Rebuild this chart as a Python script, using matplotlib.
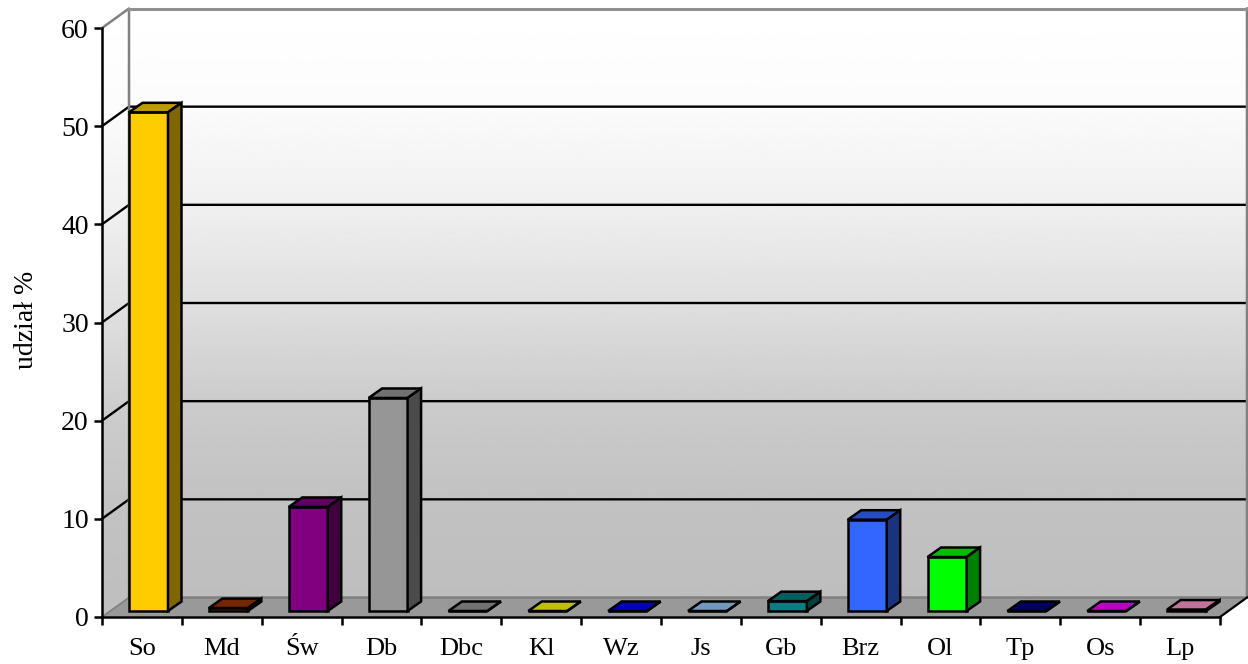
import matplotlib
matplotlib.use('Agg')
import matplotlib.pyplot as plt
import numpy as np
from matplotlib.patches import Polygon

plt.rcParams['font.family'] = ['Liberation Serif', 'DejaVu Serif']

# values
categories = ['So', 'Md', 'Św', 'Db', 'Dbc', 'Kl', 'Wz', 'Js', 'Gb', 'Brz', 'Ol', 'Tp', 'Os', 'Lp']
values = [50.8, 0.3, 10.6, 21.7, 0, 0, 0, 0, 1.0, 9.3, 5.5, 0, 0, 0.15]
face_colors = ['#ffcc00', '#993300', '#800080', '#969696', '#969696', '#ffff00', '#0000ff',
               '#99ccff', '#008080', '#3366ff', '#00ff00', '#000080', '#ff00ff', '#ff99cc']
y_ticks = [0, 10, 20, 30, 40, 50, 60]
# wall shade read at each gridline, top to bottom
wall_shades = [1.0, 0.985, 0.94, 0.875, 0.80, 0.76, 0.745]

W, H = 1248, 664
fig = plt.figure(figsize=(W / 100, H / 100), dpi=100)
ax = fig.add_axes([102 / W, 1 - 617 / H, (1220 - 102) / W, (617 - 28) / H])
n = len(categories)

# depth of the fake 3d box, in data units
px_x = n / (1220 - 102)
px_y = 60 / (617 - 28)
dx = 27 * px_x
dy = 19.5 * px_y

# back wall and side wall share one vertical gradient
grad = np.interp(np.linspace(0, 6, 256), range(7), wall_shades).reshape(-1, 1)
wall = ax.imshow(grad, cmap='gray', vmin=0, vmax=1, aspect='auto',
                 extent=(0, n + dx, dy, 60 + dy), origin='upper', zorder=0)
wall.set_clip_path(Polygon([(0, 0), (dx, dy), (n + dx, dy), (n + dx, 60 + dy), (dx, 60 + dy), (0, 60)],
                           closed=True, transform=ax.transData))
wall.set_clip_box(fig.bbox)
side = ax.imshow(grad, cmap='gray', vmin=0, vmax=1, aspect='auto',
                 extent=(0, dx, 0, 60 + dy), origin='upper', zorder=0)
side.set_clip_path(Polygon([(0, 0), (dx, dy), (dx, 60 + dy), (0, 60)], closed=True, transform=ax.transData))
side.set_clip_box(fig.bbox)
ax.set_xlim(0, n)
ax.set_ylim(0, 60)

# floor
ax.fill([0, dx, n + dx, n], [0, dy, dy, 0], color='#999999', zorder=1, clip_on=False, lw=0)

# gridlines on the walls
for t in y_ticks[1:-1]:
    ax.plot([0, dx, n + dx], [t, t + dy, t + dy], color='black', lw=1.7, zorder=2,
            clip_on=False, solid_joinstyle='miter')
ax.plot([0, dx, dx, n + dx, n + dx], [60, 60 + dy, dy, dy, 60 + dy], color='#808080', lw=1.8, zorder=2,
        clip_on=False)
ax.plot([dx, n + dx], [60 + dy, 60 + dy], color='#909090', lw=2.2, zorder=2, clip_on=False)
ax.plot([0, dx], [0, dy], color='#808080', lw=1.2, zorder=2, clip_on=False)
ax.plot([n, n + dx], [0, dy], color='black', lw=1.6, zorder=2, clip_on=False)

# bars with their top and side faces
bar_w = 39 * px_x
bar_dx = 13.5 * px_x
bar_dy = 9.5 * px_y
base = 6 * px_y
for i, (v, c) in enumerate(zip(values, face_colors)):
    x0 = i + 27 * px_x
    x1 = x0 + bar_w
    top = base + v
    rgb = np.array(matplotlib.colors.to_rgb(c))
    ax.bar(x0, v, width=bar_w, bottom=base, align='edge', color=c, edgecolor='black', lw=1.8,
           zorder=5 + i, clip_on=False)
    ax.fill([x0, x0 + bar_dx, x1 + bar_dx, x1], [top, top + bar_dy, top + bar_dy, top],
            facecolor=rgb * 0.75, edgecolor='black', lw=1.8, zorder=5 + i, clip_on=False)
    ax.fill([x1, x1 + bar_dx, x1 + bar_dx, x1], [base, base + bar_dy, top + bar_dy, top],
            facecolor=rgb * 0.5, edgecolor='black', lw=1.8, zorder=5 + i, clip_on=False)

for s in ['top', 'right']:
    ax.spines[s].set_visible(False)
for s in ['left', 'bottom']:
    ax.spines[s].set_linewidth(1.8)
    ax.spines[s].set_zorder(30)

ax.set_yticks(y_ticks)
ax.set_yticklabels([str(t) for t in y_ticks], fontsize=20)
ax.set_xticks(range(n + 1))
ax.set_xticklabels([])
ax.set_xticks(np.arange(n) + 0.5, minor=True)
ax.set_xticklabels(categories, minor=True, fontsize=19)
ax.tick_params(axis='x', which='major', length=5.5, width=1.8, direction='out')
ax.tick_params(axis='x', which='minor', length=0, pad=15)
ax.tick_params(axis='y', length=5.5, width=1.8, direction='out', pad=4)
ax.set_ylabel('udział %', fontsize=20, labelpad=0)
ax.yaxis.set_label_coords((39 - 102) / (1220 - 102), (617 - 320) / (617 - 28))

fig.savefig('out.png', dpi=100)
